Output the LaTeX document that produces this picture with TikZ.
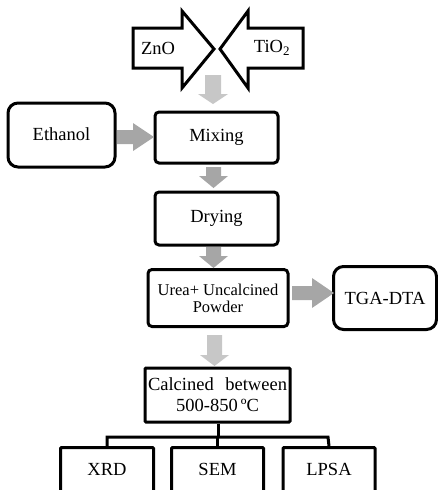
\documentclass[tikz,border=0pt]{standalone}
\usepackage{fontspec}
\setmainfont{Liberation Serif}
\begin{document}
\begin{tikzpicture}[x=1pt,y=-1pt,
  box/.style={draw=black,line width=3pt,fill=white,rounded corners=4pt,inner sep=0pt,font=\fontsize{18.5}{20}\selectfont,align=center},
  rbox/.style={box,rounded corners=10pt},
  sbox/.style={box,rounded corners=1pt},
  blk/.style={draw=black,line width=3pt,fill=white,line join=miter},
  garrow/.style={fill=black!35,draw=none},
  larrow/.style={fill=black!22,draw=none},
  tree/.style={draw=black,line width=3pt},
  lbl/.style={font=\fontsize{18.5}{20}\selectfont}]
\useasboundingbox (0,0) rectangle (438,490);
\clip (0,0) rectangle (438,490);
% block arrows
\draw[blk] (133,28) -- (182,28) -- (182,11) -- (214,49) -- (182,88) -- (182,68) -- (133,68) -- cycle;
\draw[blk] (303,28) -- (248,28) -- (248,11) -- (220,49) -- (248,88) -- (248,68) -- (303,68) -- cycle;
\node[lbl] (zno) at (158,48) {ZnO};
\node[lbl] (tio) at (272,48) {TiO\textsubscript{2}};
% boxes
\node[rbox,minimum width=107pt,minimum height=64pt] (eth) at (61.5,135) {\raisebox{2pt}{Ethanol}};
\node[box,minimum width=123pt,minimum height=51pt] (mix) at (216.5,137.5) {Mixing};
\node[box,minimum width=123pt,minimum height=53pt] (dry) at (216.5,218.5) {Drying};
\node[box,minimum width=140pt,minimum height=57pt,font=\fontsize{16.5}{17}\selectfont] (urea) at (218,298) {Urea+ Uncalcined\\Powder};
\node[rbox,minimum width=103pt,minimum height=63pt] (tga) at (385,298) {TGA-DTA};
\node[sbox,minimum width=145pt,minimum height=54pt,font=\fontsize{18.5}{21}\selectfont] (cal) at (217.5,395) {\makebox[139pt][s]{Calcined between}\\500-850\,ºC};
\node[sbox,minimum width=93pt,minimum height=70pt,anchor=north] (xrd) at (107,446) {};
\node[sbox,minimum width=92pt,minimum height=70pt,anchor=north] (sem) at (217.5,446) {};
\node[sbox,minimum width=92pt,minimum height=70pt,anchor=north] (lpsa) at (329,446) {};
\node[lbl] at (107,469) {XRD};
\node[lbl] at (217.5,469) {SEM};
\node[lbl] at (329,469) {LPSA};
% gray arrows
\fill[larrow] (205,75) -- (221,75) -- (221,94) -- (228,94) -- (213,104) -- (198,94) -- (205,94) -- cycle;
\fill[garrow] (117,130) -- (133,130) -- (133,123) -- (154,137) -- (133,151) -- (133,144) -- (117,144) -- cycle;
\fill[garrow] (206,167) -- (221,167) -- (221,176) -- (228,176) -- (213.5,188) -- (199,176) -- (206,176) -- cycle;
\fill[garrow] (206,247) -- (221,247) -- (221,256) -- (228,256) -- (213.5,268) -- (199,256) -- (206,256) -- cycle;
\fill[garrow] (292,286) -- (312,286) -- (312,278) -- (334,293) -- (312,308) -- (312,300) -- (292,300) -- cycle;
\fill[larrow] (207,335) -- (222,335) -- (222,355) -- (229,355) -- (214.5,366) -- (200,355) -- (207,355) -- cycle;
% tree
\coordinate (j) at (218,437);
\draw[tree] (cal.south -| j) -- (j);
\draw[tree,line join=miter] (xrd.north) -- (107,437) -- (328,437) -- (lpsa.north);
\draw[tree] (sem.north) -- (sem.north |- j);
\end{tikzpicture}
\end{document}
